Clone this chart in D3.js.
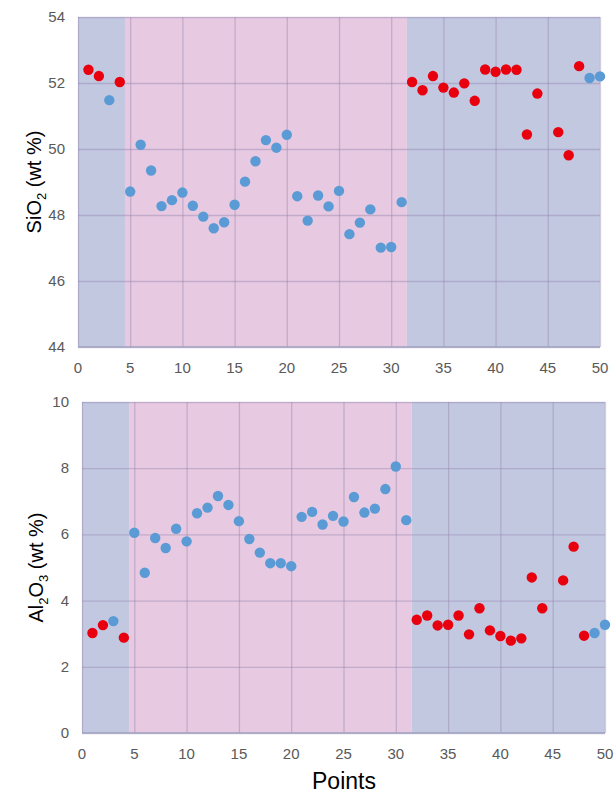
<!DOCTYPE html>
<html>
<head>
<meta charset="utf-8">
<script src="https://cdn.jsdelivr.net/npm/d3@7"></script>
<style>
  body { margin: 0; background: #fff; }
  text { font-family: "Liberation Sans", Arial, sans-serif; }
</style>
</head>
<body>
<div id="chart"></div>
<script>
// point number along the traverse
var points = [1, 2, 3, 4, 5, 6, 7, 8, 9, 10, 11, 12, 13, 14, 15, 16, 17, 18, 19, 20,
    21, 22, 23, 24, 25, 26, 27, 28, 29, 30, 31, 32, 33, 34, 35, 36, 37, 38, 39, 40,
    41, 42, 43, 44, 45, 46, 47, 48, 49, 50];

// r = red marker, b = blue marker
var groups = ["r", "r", "b", "r", "b", "b", "b", "b", "b", "b", "b", "b", "b", "b", "b", "b", "b", "b", "b", "b",
    "b", "b", "b", "b", "b", "b", "b", "b", "b", "b", "b", "r", "r", "r", "r", "r", "r", "r", "r", "r",
    "r", "r", "r", "r", "r", "r", "r", "r", "b", "b"];

var sio2 = [52.40, 52.21, 51.48, 52.03, 48.71, 50.13, 49.35, 48.27, 48.45, 48.68,
    48.28, 47.95, 47.60, 47.78, 48.31, 49.01, 49.63, 50.27, 50.04, 50.43,
    48.57, 47.83, 48.59, 48.26, 48.73, 47.42, 47.77, 48.17, 47.01, 47.03,
    48.39, 52.03, 51.78, 52.21, 51.86, 51.71, 51.99, 51.46, 52.41, 52.34,
    52.41, 52.40, 50.44, 51.68, null, 50.51, 49.81, 52.51, 52.15, 52.20];

var al2o3 = [3.02, 3.26, 3.38, 2.88, 6.05, 4.84, 5.89, 5.59, 6.17, 5.79,
    6.64, 6.81, 7.16, 6.89, 6.40, 5.86, 5.45, 5.13, 5.13, 5.04,
    6.53, 6.68, 6.30, 6.56, 6.39, 7.13, 6.66, 6.78, 7.37, 8.05,
    6.43, 3.42, 3.55, 3.25, 3.27, 3.55, 2.98, 3.77, 3.10, 2.93,
    2.79, 2.86, 4.70, 3.77, null, 4.61, 5.63, 2.94, 3.02, 3.27];

// shaded zones along x
var zoneStart = [0, 4.5, 31.5];
var zoneEnd = [4.5, 31.5, 50];
var zoneType = ["blue", "pink", "blue"];

var xTicks = [0, 5, 10, 15, 20, 25, 30, 35, 40, 45, 50];
var sioTicks = [44, 46, 48, 50, 52, 54];
var alTicks = [0, 2, 4, 6, 8, 10];

var colors = {r: "#e8000f", b: "#5b9bd5"};
var zoneColors = {blue: "#c3c8e1", pink: "#e7c9e1"};

var svg = d3.select("#chart").append("svg")
    .attr("width", 616)
    .attr("height", 793);

function drawPanel(box, values, yDomain, yTicks, titleMain, titleParts) {
    var xScale = d3.scaleLinear().domain([0, 50]).range([box.left, box.right]);
    var yScale = d3.scaleLinear().domain(yDomain).range([box.bottom, box.top]);
    var g = svg.append("g");

    // background zones
    zoneType.forEach(function(t, i) {
        g.append("rect")
            .attr("x", xScale(zoneStart[i]))
            .attr("y", yScale(yDomain[1]))
            .attr("width", xScale(zoneEnd[i]) - xScale(zoneStart[i]))
            .attr("height", yScale(yDomain[0]) - yScale(yDomain[1]))
            .attr("fill", zoneColors[t]);
    });

    // gridlines
    g.append("g")
        .attr("transform", "translate(0," + box.bottom + ")")
        .call(d3.axisBottom(xScale).tickValues(xTicks).tickSize(-(box.bottom - box.top)).tickFormat(""))
        .call(function(a) { a.select(".domain").remove(); })
        .selectAll("line").attr("stroke", "#8e7fa8").attr("stroke-opacity", 0.4).attr("stroke-width", 1.3);

    g.append("g")
        .attr("transform", "translate(" + box.left + ",0)")
        .call(d3.axisLeft(yScale).tickValues(yTicks).tickSize(-(box.right - box.left)).tickFormat(""))
        .call(function(a) { a.select(".domain").remove(); })
        .selectAll("line").attr("stroke", "#8e7fa8").attr("stroke-opacity", 0.4).attr("stroke-width", 1.3);

    // bottom axis line
    g.append("line")
        .attr("x1", box.left).attr("x2", box.right)
        .attr("y1", box.bottom).attr("y2", box.bottom)
        .attr("stroke", "#9fa3bf").attr("stroke-width", 1.5);

    // tick labels
    g.selectAll(".xlab").data(xTicks).enter().append("text")
        .attr("class", "xlab")
        .attr("x", function(d) { return xScale(d); })
        .attr("y", box.bottom + 26)
        .attr("text-anchor", "middle")
        .attr("font-size", 15)
        .attr("fill", "#595959")
        .text(function(d) { return d; });

    g.selectAll(".ylab").data(yTicks).enter().append("text")
        .attr("class", "ylab")
        .attr("x", box.left - 13)
        .attr("y", function(d) { return yScale(d) + 5; })
        .attr("text-anchor", "end")
        .attr("font-size", 15)
        .attr("fill", "#595959")
        .text(function(d) { return d; });

    // markers
    var data = points.map(function(p, i) { return {x: p, y: values[i], c: groups[i]}; })
        .filter(function(d) { return d.y !== null; });

    g.selectAll(".dot").data(data).enter().append("circle")
        .attr("class", "dot")
        .attr("cx", function(d) { return xScale(d.x); })
        .attr("cy", function(d) { return yScale(d.y); })
        .attr("r", 5.2)
        .attr("fill", function(d) { return colors[d.c]; });

    // y title with subscripts
    var cy = (box.top + box.bottom) / 2;
    var title = g.append("text")
        .attr("transform", "translate(" + box.titleX + "," + cy + ") rotate(-90)")
        .attr("text-anchor", "middle")
        .attr("font-size", 20)
        .attr("fill", "#000");
    titleParts.forEach(function(p) {
        if (p.sub) {
            title.append("tspan").attr("font-size", 13).attr("dy", 5).text(p.t);
        } else {
            title.append("tspan").attr("dy", p.after ? -5 : 0).text(p.t);
        }
    });
}

// 1. SiO2 panel
drawPanel({left: 78, right: 600, top: 17, bottom: 347, titleX: 41},
    sio2, [44, 54], sioTicks, "SiO2",
    [{t: "SiO"}, {t: "2", sub: true}, {t: " (wt %)", after: true}]);

// 2. Al2O3 panel
drawPanel({left: 82, right: 605, top: 402, bottom: 733, titleX: 43},
    al2o3, [0, 10], alTicks, "Al2O3",
    [{t: "Al"}, {t: "2", sub: true}, {t: "O", after: true}, {t: "3", sub: true}, {t: " (wt %)", after: true}]);

svg.append("text")
    .attr("x", 344)
    .attr("y", 789)
    .attr("text-anchor", "middle")
    .attr("font-size", 23)
    .attr("fill", "#000")
    .text("Points");
</script>
</body>
</html>
